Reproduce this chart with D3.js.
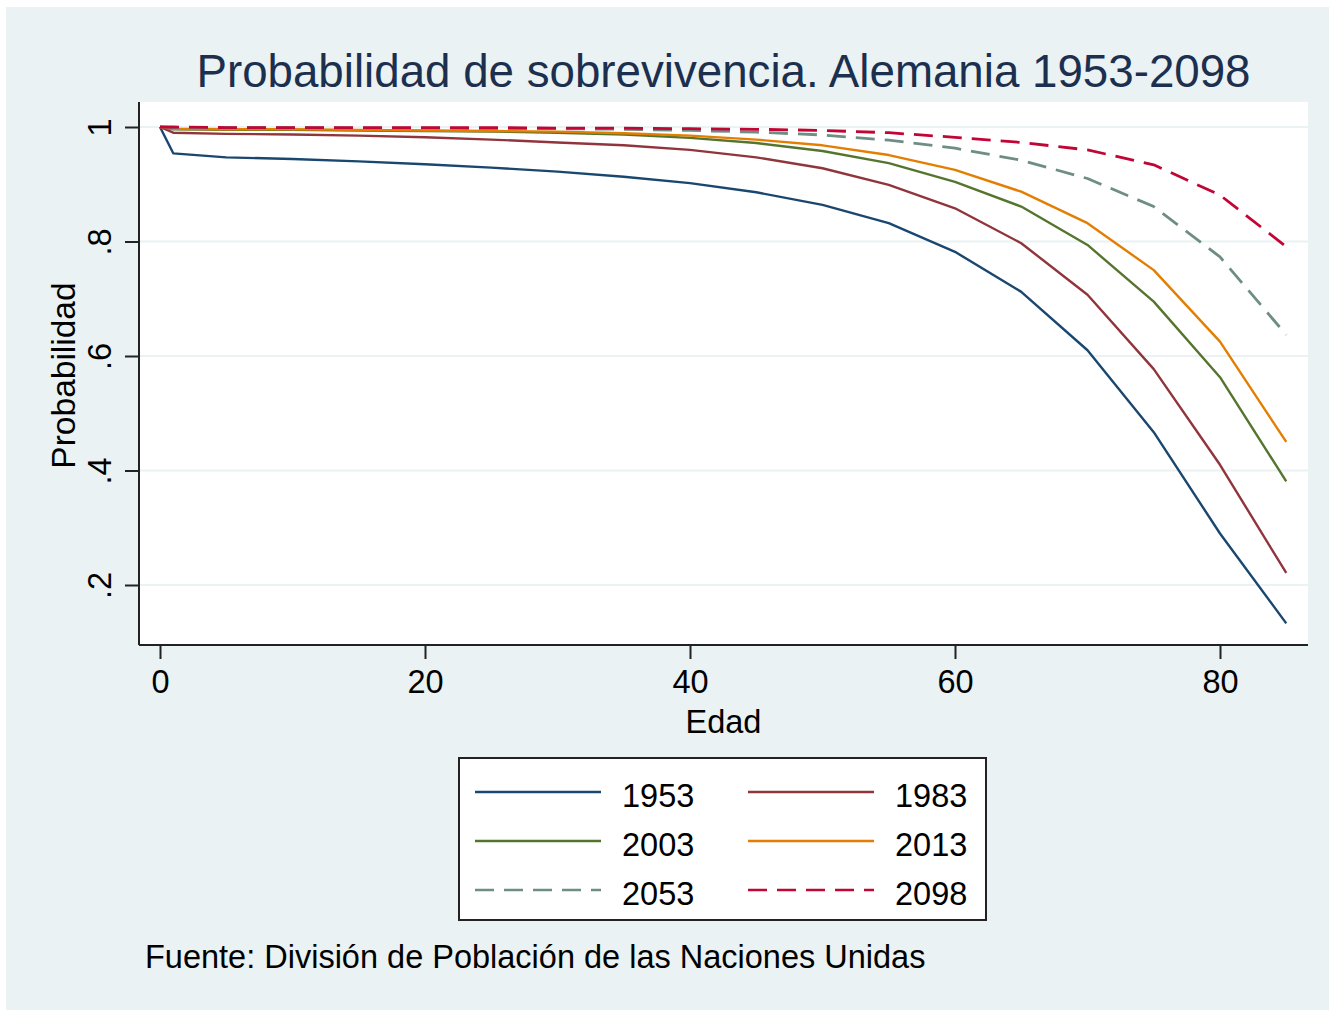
<!DOCTYPE html>
<html>
<head>
<meta charset="utf-8">
<script src="https://cdn.jsdelivr.net/npm/d3@7/dist/d3.min.js"></script>
<style>
  html, body { margin: 0; padding: 0; background: #ffffff; }
  svg { display: block; }
  text { font-family: "Liberation Sans", Arial, Helvetica, sans-serif; }
</style>
</head>
<body>
<svg id="chart" width="1329" height="1011"></svg>
<script>
// ---- Data ----
const ages = [0, 1, 5, 10, 15, 20, 25, 30, 35, 40, 45, 50, 55, 60, 65, 70, 75, 80, 85];
const s1953 = [1, .954, .947, .944, .940, .935, .929, .922, .913, .902, .886, .864, .832, .782, .712, .610, .467, .290, .133];
const s1983 = [1, .990, .988, .987, .985, .982, .978, .973, .968, .960, .947, .928, .899, .858, .797, .707, .577, .410, .221];
const s2003 = [1, .996, .995, .995, .994, .993, .992, .990, .987, .981, .972, .958, .937, .904, .861, .794, .695, .563, .381];
const s2013 = [1, .997, .996, .996, .995, .994, .993, .992, .989, .985, .978, .968, .951, .925, .887, .832, .750, .625, .450];
const s2053 = [1, .999, .999, .999, .998, .998, .997, .997, .996, .994, .991, .986, .977, .963, .942, .910, .861, .773, .637];
const s2098 = [1, 1.0, .999, .999, .999, .999, .999, .998, .998, .997, .996, .994, .990, .982, .973, .960, .934, .881, .791];
const seriesNames = ["1953", "1983", "2003", "2013", "2053", "2098"];
const seriesValues = [s1953, s1983, s2003, s2013, s2053, s2098];
const xTicks = [0, 20, 40, 60, 80];
const yTicks = [0.2, 0.4, 0.6, 0.8, 1];
const yTickLabels = [".2", ".4", ".6", ".8", "1"];
const titleText = "Probabilidad de sobrevivencia. Alemania 1953-2098";
const xTitle = "Edad";
const yTitle = "Probabilidad";
const noteText = "Fuente: División de Población de las Naciones Unidas";

// ---- Styles ----
const colors = ["#1a476f", "#90353b", "#55752f", "#e37e00", "#6e8e84", "#c10534"];
const dashes = [null, null, null, null, "19,10", "19,10"];
const bg = "#eaf2f3";
const axisColor = "#222222";

const svg = d3.select("#chart");

// graph region
svg.append("rect").attr("x", 6).attr("y", 7).attr("width", 1323).attr("height", 1003).attr("fill", bg);

// plot region
const plot = { left: 139, right: 1308, top: 102, bottom: 645 };
svg.append("rect")
  .attr("x", plot.left).attr("y", plot.top)
  .attr("width", plot.right - plot.left).attr("height", plot.bottom - plot.top)
  .attr("fill", "#ffffff");

const x = d3.scaleLinear().domain([0, 80]).range([160, 1220]);
const y = d3.scaleLinear().domain([0.2, 1]).range([585, 127]);

// gridlines
svg.append("g").selectAll("line").data(yTicks).join("line")
  .attr("x1", plot.left).attr("x2", plot.right)
  .attr("y1", d => y(d)).attr("y2", d => y(d))
  .attr("stroke", bg).attr("stroke-width", 2);

// lines
const line = d3.line().x((d, i) => x(ages[i])).y(d => y(d));
seriesValues.forEach((vals, k) => {
  svg.append("path")
    .datum(vals)
    .attr("d", line)
    .attr("fill", "none")
    .attr("stroke", colors[k])
    .attr("stroke-width", k >= 4 ? 2.8 : 2.4)
    .attr("stroke-linejoin", "round")
    .attr("stroke-dasharray", dashes[k]);
});

// x axis
const xAxis = d3.axisBottom(x).tickValues(xTicks).tickSize(14).tickSizeOuter(0).tickPadding(10);
const gx = svg.append("g").attr("transform", `translate(0,${plot.bottom})`).call(xAxis);
gx.select(".domain").attr("d", `M${plot.left},0H${plot.right}`).attr("stroke", axisColor).attr("stroke-width", 2);
gx.selectAll(".tick line").attr("stroke", axisColor).attr("stroke-width", 2);
gx.selectAll(".tick text").attr("font-size", 32.5).attr("fill", "#000").attr("dy", null).attr("y", 48)
  .attr("font-family", '"Liberation Sans", Arial, sans-serif');

// y axis
const yAxis = d3.axisLeft(y).tickValues(yTicks).tickFormat((d, i) => yTickLabels[i]).tickSize(14).tickSizeOuter(0);
const gy = svg.append("g").attr("transform", `translate(${plot.left},0)`).call(yAxis);
gy.select(".domain").attr("d", `M0,${plot.top}V${plot.bottom}`).attr("stroke", axisColor).attr("stroke-width", 2);
gy.selectAll(".tick line").attr("stroke", axisColor).attr("stroke-width", 2);
gy.selectAll(".tick text")
  .attr("font-size", 32.5).attr("fill", "#000")
  .attr("x", null).attr("dy", null)
  .attr("text-anchor", "middle")
  .attr("transform", "translate(-28,0) rotate(-90)")
  .attr("font-family", '"Liberation Sans", Arial, sans-serif');

// titles
svg.append("text").attr("x", (plot.left + plot.right) / 2).attr("y", 87)
  .attr("text-anchor", "middle").attr("font-size", 45.7).attr("fill", "#1c2f4f").text(titleText);
svg.append("text").attr("x", (plot.left + plot.right) / 2).attr("y", 733)
  .attr("text-anchor", "middle").attr("font-size", 32.5).attr("fill", "#000").text(xTitle);
svg.append("text")
  .attr("transform", `translate(75,${(plot.top + plot.bottom) / 2 + 2}) rotate(-90)`)
  .attr("text-anchor", "middle").attr("font-size", 33.5).attr("fill", "#000").text(yTitle);

// legend
const lg = svg.append("g");
lg.append("rect").attr("x", 459).attr("y", 758).attr("width", 527).attr("height", 162)
  .attr("fill", "#ffffff").attr("stroke", "#222").attr("stroke-width", 2);
const colX = [475, 748];
const rowY = [792, 841, 890];
seriesNames.forEach((name, k) => {
  const cx = colX[k % 2], cy = rowY[Math.floor(k / 2)];
  lg.append("line").attr("x1", cx).attr("x2", cx + 126).attr("y1", cy).attr("y2", cy)
    .attr("stroke", colors[k]).attr("stroke-width", 2.4).attr("stroke-dasharray", dashes[k]);
  lg.append("text").attr("x", cx + 147).attr("y", cy + 15).attr("font-size", 32.5).attr("fill", "#000").text(name);
});

// note
svg.append("text").attr("x", 145).attr("y", 968).attr("font-size", 32.5).attr("fill", "#000").text(noteText);
</script>
</body>
</html>
